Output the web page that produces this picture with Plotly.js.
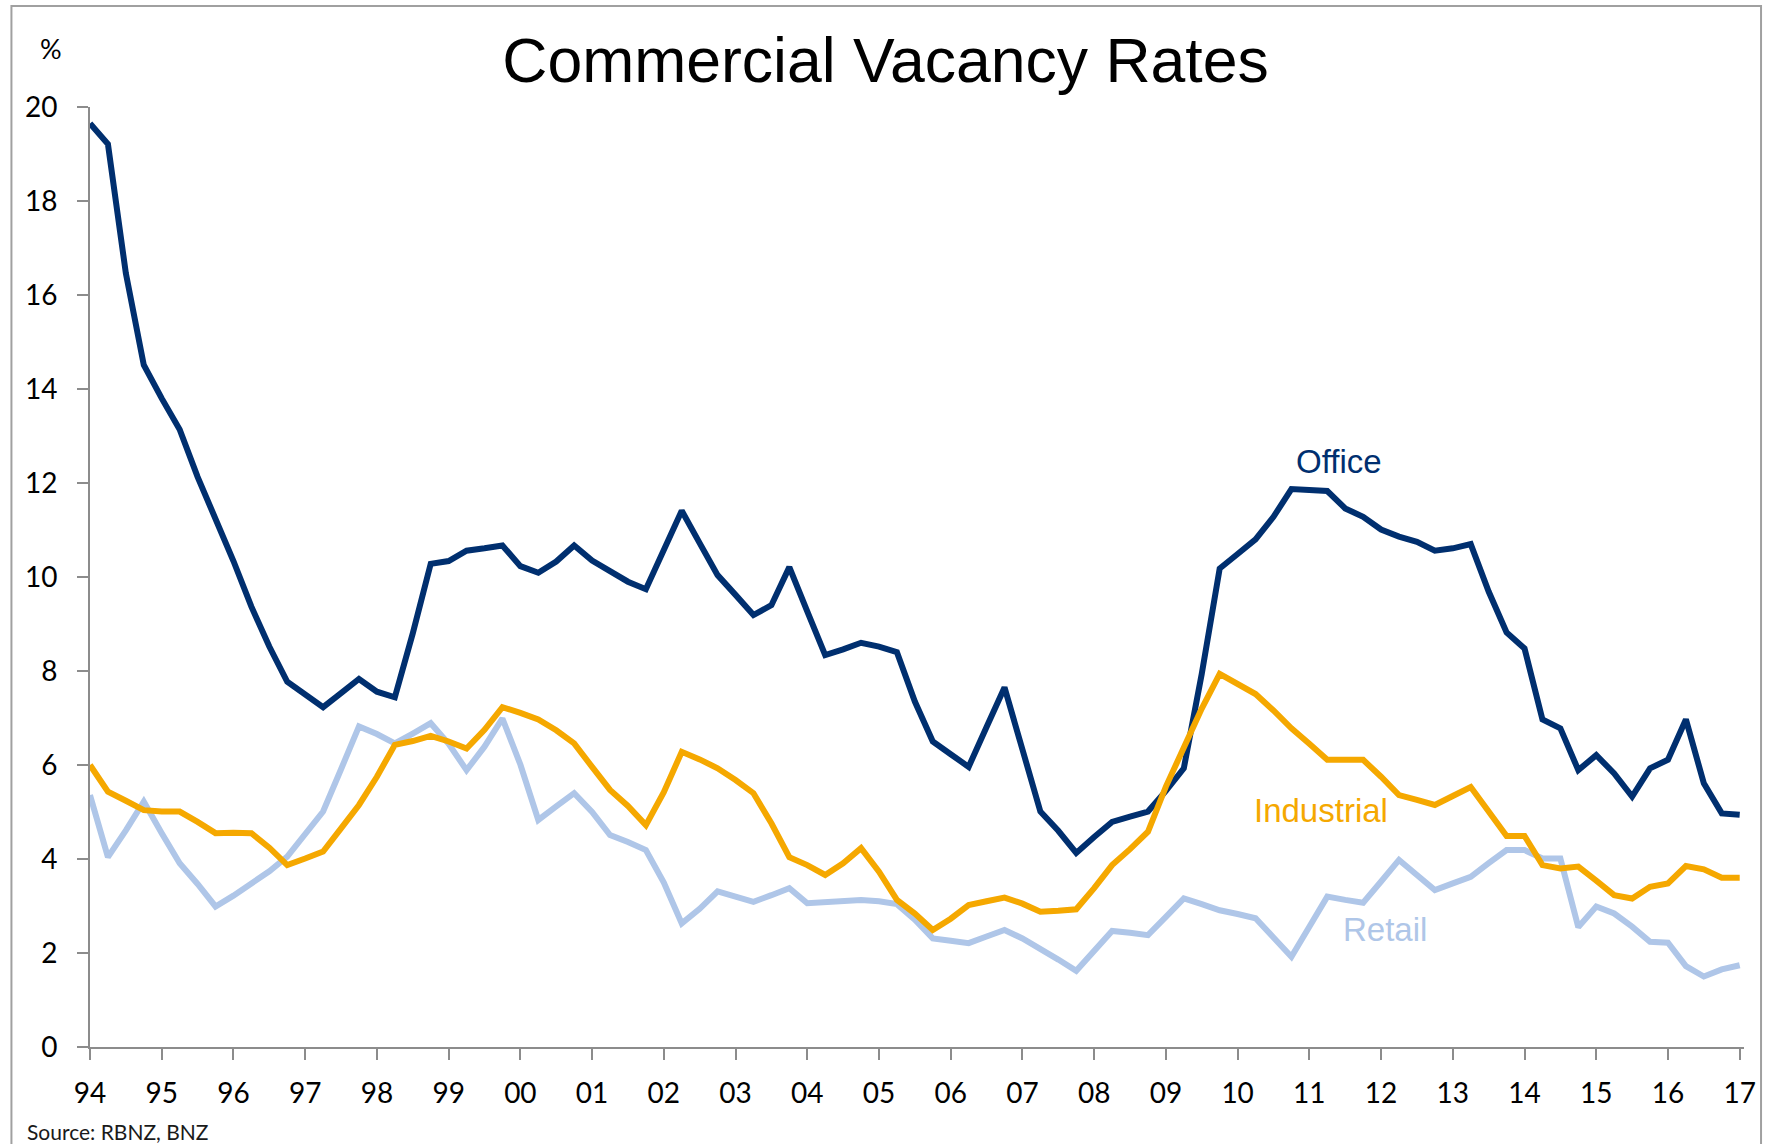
<!DOCTYPE html>
<html>
<head>
<meta charset="utf-8">
<script src="https://cdn.plot.ly/plotly-3.0.1.min.js"></script>
<style>
  html, body { margin: 0; padding: 0; background: #ffffff; }
  #chart { width: 1771px; height: 1144px; }
</style>
</head>
<body>
<div id="chart"></div>
<script>
// Quarterly observations, 1994 Q1 .. 2017 Q1 (decimal years)
const quarters = [
  1994.00, 1994.25, 1994.50, 1994.75,
  1995.00, 1995.25, 1995.50, 1995.75,
  1996.00, 1996.25, 1996.50, 1996.75,
  1997.00, 1997.25, 1997.50, 1997.75,
  1998.00, 1998.25, 1998.50, 1998.75,
  1999.00, 1999.25, 1999.50, 1999.75,
  2000.00, 2000.25, 2000.50, 2000.75,
  2001.00, 2001.25, 2001.50, 2001.75,
  2002.00, 2002.25, 2002.50, 2002.75,
  2003.00, 2003.25, 2003.50, 2003.75,
  2004.00, 2004.25, 2004.50, 2004.75,
  2005.00, 2005.25, 2005.50, 2005.75,
  2006.00, 2006.25, 2006.50, 2006.75,
  2007.00, 2007.25, 2007.50, 2007.75,
  2008.00, 2008.25, 2008.50, 2008.75,
  2009.00, 2009.25, 2009.50, 2009.75,
  2010.00, 2010.25, 2010.50, 2010.75,
  2011.00, 2011.25, 2011.50, 2011.75,
  2012.00, 2012.25, 2012.50, 2012.75,
  2013.00, 2013.25, 2013.50, 2013.75,
  2014.00, 2014.25, 2014.50, 2014.75,
  2015.00, 2015.25, 2015.50, 2015.75,
  2016.00, 2016.25, 2016.50, 2016.75,
  2017.00
];

const office = [
  19.65, 19.21, 16.46, 14.51,
  13.80, 13.14, 12.13, 11.27,
  10.34, 9.37, 8.52, 7.77,
  7.49, 7.23, 7.53, 7.83,
  7.56, 7.44, 8.80, 10.28,
  10.34, 10.56, 10.61, 10.67,
  10.23, 10.09, 10.33, 10.67,
  10.35, 10.13, 9.90, 9.74,
  10.57, 11.41, 10.72, 10.04,
  9.62, 9.19, 9.40, 10.21,
  9.27, 8.34, 8.46, 8.60,
  8.52, 8.40, 7.35, 6.50,
  6.23, 5.96, 6.81, 7.65,
  6.33, 5.01, 4.60, 4.13,
  4.47, 4.79, 4.90, 5.01,
  5.45, 5.93, 7.94, 10.18,
  10.49, 10.80, 11.28, 11.87,
  11.85, 11.83, 11.46, 11.28,
  11.01, 10.86, 10.75, 10.56,
  10.61, 10.70, 9.69, 8.82,
  8.48, 6.97, 6.78, 5.89,
  6.21, 5.82, 5.33, 5.93,
  6.11, 6.97, 5.61, 4.97,
  4.94
];

const industrial = [
  6.00, 5.43, 5.24, 5.04,
  5.01, 5.01, 4.79, 4.55,
  4.56, 4.55, 4.24, 3.87,
  4.01, 4.16, 4.65, 5.15,
  5.75, 6.43, 6.51, 6.62,
  6.50, 6.35, 6.75, 7.23,
  7.11, 6.97, 6.74, 6.46,
  5.96, 5.47, 5.13, 4.72,
  5.42, 6.28, 6.12, 5.93,
  5.68, 5.40, 4.76, 4.04,
  3.87, 3.66, 3.91, 4.23,
  3.73, 3.13, 2.84, 2.49,
  2.73, 3.02, 3.10, 3.18,
  3.05, 2.88, 2.90, 2.93,
  3.38, 3.87, 4.21, 4.58,
  5.54, 6.40, 7.20, 7.94,
  7.74, 7.51, 7.16, 6.78,
  6.45, 6.11, 6.11, 6.11,
  5.75, 5.36, 5.26, 5.15,
  5.34, 5.53, 5.01, 4.49,
  4.49, 3.87, 3.80, 3.84,
  3.54, 3.23, 3.16, 3.41,
  3.48, 3.85, 3.78, 3.60,
  3.60
];

const retail = [
  5.36, 4.04, 4.61, 5.22,
  4.55, 3.91, 3.47, 2.99,
  3.22, 3.48, 3.74, 4.05,
  4.52, 5.01, 5.91, 6.82,
  6.66, 6.46, 6.67, 6.89,
  6.45, 5.89, 6.39, 6.99,
  6.01, 4.83, 5.12, 5.40,
  5.00, 4.51, 4.36, 4.19,
  3.50, 2.63, 2.94, 3.31,
  3.20, 3.09, 3.23, 3.38,
  3.06, 3.08, 3.10, 3.13,
  3.10, 3.04, 2.71, 2.31,
  2.26, 2.21, 2.35, 2.49,
  2.31, 2.10, 1.86, 1.62,
  2.05, 2.47, 2.43, 2.38,
  2.77, 3.16, 3.04, 2.91,
  2.83, 2.74, 2.33, 1.92,
  2.56, 3.20, 3.13, 3.07,
  3.52, 3.98, 3.66, 3.34,
  3.48, 3.62, 3.91, 4.19,
  4.19, 4.01, 4.01, 2.55,
  2.99, 2.84, 2.56, 2.24,
  2.22, 1.72, 1.50, 1.65,
  1.74
];

const yearTicks = [1994, 1995, 1996, 1997, 1998, 1999, 2000, 2001, 2002, 2003, 2004, 2005,
                   2006, 2007, 2008, 2009, 2010, 2011, 2012, 2013, 2014, 2015, 2016, 2017];
const yearLabels = ['94', '95', '96', '97', '98', '99', '00', '01', '02', '03', '04', '05',
                    '06', '07', '08', '09', '10', '11', '12', '13', '14', '15', '16', '17'];
const yTicks = [0, 2, 4, 6, 8, 10, 12, 14, 16, 18, 20];

const seriesNames = ['Office', 'Retail', 'Industrial'];
const colOffice = '#002F6F';
const colIndustrial = '#F5A800';
const colRetail = '#AFC6E8';

const traces = [
  { x: quarters, y: office, name: seriesNames[0], type: 'scatter', mode: 'lines',
    line: { color: colOffice, width: 6 } },
  { x: quarters, y: retail, name: seriesNames[1], type: 'scatter', mode: 'lines',
    line: { color: colRetail, width: 6 } },
  { x: quarters, y: industrial, name: seriesNames[2], type: 'scatter', mode: 'lines',
    line: { color: colIndustrial, width: 6 } }
];

const tickFont = { family: 'Lato, "Open Sans", sans-serif', size: 28, color: '#000000' };
const labelFont = 'Liberation Sans, Arial, sans-serif';

const layout = {
  width: 1771,
  height: 1144,
  margin: { l: 90, r: 27, t: 107, b: 97, pad: 0 },
  paper_bgcolor: '#ffffff',
  plot_bgcolor: '#ffffff',
  showlegend: false,
  title: {
    text: 'Commercial Vacancy Rates',
    font: { family: labelFont, size: 62.5, color: '#000000' },
    x: 0.5, xref: 'container', xanchor: 'center',
    y: 0.9476, yref: 'container', yanchor: 'middle'
  },
  xaxis: {
    range: [1994, 2017.06],
    tickmode: 'array',
    tickvals: yearTicks,
    ticktext: yearLabels,
    ticks: 'outside',
    ticklen: 11,
    tickwidth: 2,
    tickcolor: '#8c8c8c',
    ticklabelstandoff: 9,
    showline: true,
    linecolor: '#8c8c8c',
    linewidth: 2,
    showgrid: false,
    zeroline: false,
    tickfont: tickFont,
    fixedrange: true
  },
  yaxis: {
    range: [0, 20],
    tickmode: 'array',
    tickvals: yTicks,
    ticks: 'outside',
    ticklen: 11,
    tickwidth: 2,
    tickcolor: '#8c8c8c',
    ticklabelstandoff: 14,
    showline: true,
    linecolor: '#8c8c8c',
    linewidth: 2,
    showgrid: false,
    zeroline: false,
    tickfont: tickFont,
    fixedrange: true
  },
  annotations: [
    { text: 'Office', x: 2011.42, y: 12.45, xref: 'x', yref: 'y', showarrow: false,
      xanchor: 'center', yanchor: 'middle',
      font: { family: labelFont, size: 33, color: colOffice } },
    { text: 'Industrial', x: 2011.16, y: 5.04, xref: 'x', yref: 'y', showarrow: false,
      xanchor: 'center', yanchor: 'middle',
      font: { family: labelFont, size: 33, color: colIndustrial } },
    { text: 'Retail', x: 2012.05, y: 2.51, xref: 'x', yref: 'y', showarrow: false,
      xanchor: 'center', yanchor: 'middle',
      font: { family: labelFont, size: 33, color: colRetail } },
    { text: '%', x: -0.0235, y: 1.0620, xref: 'paper', yref: 'paper', showarrow: false,
      xanchor: 'center', yanchor: 'middle',
      font: { family: 'Lato, "Open Sans", sans-serif', size: 27, color: '#000000' } },
    { text: 'Source: RBNZ, BNZ', x: -0.039, y: -0.0894, xref: 'paper', yref: 'paper', showarrow: false,
      xanchor: 'left', yanchor: 'middle',
      font: { family: 'Lato, "Open Sans", sans-serif', size: 21, color: '#1a1a1a' } }
  ],
  shapes: [
    { type: 'rect', xref: 'paper', yref: 'paper',
      x0: -0.0475, x1: 1.0103, y0: -0.2, y1: 1.1074,
      line: { color: '#a0a0a0', width: 2 }, fillcolor: 'rgba(0,0,0,0)', layer: 'below' }
  ]
};

Plotly.newPlot('chart', traces, layout, { displayModeBar: false, staticPlot: true });
</script>
</body>
</html>
